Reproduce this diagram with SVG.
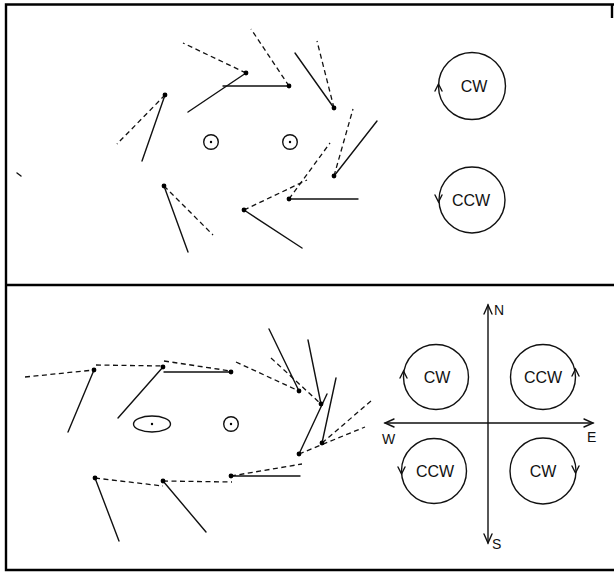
<svg xmlns="http://www.w3.org/2000/svg" width="614" height="572" viewBox="0 0 614 572">
<style>
.frame{stroke:#000;stroke-width:2.4;fill:none}
.s{stroke:#111;stroke-width:1.4;fill:none;stroke-linecap:round}
.d{stroke:#111;stroke-width:1.3;fill:none;stroke-dasharray:5 3.5}
.dot{fill:#000}
.c{stroke:#111;stroke-width:1.4;fill:none}
.t{font-family:"Liberation Sans",Arial,sans-serif;font-size:16px;fill:#111;text-anchor:middle}
.l{font-family:"Liberation Sans",Arial,sans-serif;font-size:14px;fill:#111}
</style>
<rect width="614" height="572" fill="#fff"/>
<g id="frame">
<path class="frame" d="M614 4.5H6V570H614M6 285H614"/>
<path class="frame" d="M612 5V18" stroke-width="1.2"/>
<path class="s" d="M17 173L21 176" stroke-width="1.6"/>
</g>
<g id="connectors">
<path class="s" d="M165 95L142 161"/><path class="d" d="M165 95L117 144"/>
<path class="d" d="M246 73L183 43"/><path class="s" d="M246 73L188 112"/>
<path class="s" d="M289 86H223"/><path class="d" d="M289 86L251 29"/>
<path class="s" d="M164 186L188 252"/><path class="d" d="M164 186L213 235"/>
<path class="s" d="M244 210L302 248"/><path class="d" d="M244 210L307 180"/>
<path class="s" d="M289 199H358"/><path class="d" d="M289 199L330 143"/>
<path class="s" d="M334 108L295 53"/><path class="d" d="M334 108L317 41"/>
<path class="s" d="M334 176L377 121"/><path class="d" d="M334 176L353 109"/>
<path class="s" d="M94 370L68 432"/><path class="d" d="M25 377L94 370"/><path class="d" d="M96 365L163 366"/>
<path class="s" d="M163 367L118 418"/><path class="s" d="M164 372H231"/><path class="d" d="M164 361L231 371"/>
<path class="d" d="M236 362L299 391"/>
<path class="s" d="M299 391L269 329"/><path class="d" d="M271 358L321 404"/>
<path class="s" d="M321 404L308 340"/>
<path class="s" d="M299 454L327 394"/><path class="s" d="M322 443L336 378"/>
<path class="d" d="M299 454L365 427"/><path class="d" d="M322 443L371 401"/>
<path class="s" d="M231 476H300"/><path class="d" d="M231 476L302 464"/>
<path class="s" d="M163 481L206 532"/><path class="d" d="M95 478L163 486"/><path class="d" d="M163 481L232 482"/>
<path class="s" d="M95 478L119 541"/>
</g>
<g id="dots">
<circle class="dot" cx="165" cy="95" r="2.4"/><circle class="dot" cx="246" cy="73" r="2.4"/>
<circle class="dot" cx="289" cy="86" r="2.4"/><circle class="dot" cx="164" cy="186" r="2.4"/>
<circle class="dot" cx="244" cy="210" r="2.4"/><circle class="dot" cx="289" cy="199" r="2.4"/>
<circle class="dot" cx="334" cy="108" r="2.4"/><circle class="dot" cx="334" cy="176" r="2.4"/>
<circle class="dot" cx="94" cy="370" r="2.4"/><circle class="dot" cx="163" cy="367" r="2.4"/>
<circle class="dot" cx="231" cy="372" r="2.4"/><circle class="dot" cx="299" cy="391" r="2.4"/>
<circle class="dot" cx="321" cy="404" r="2.4"/><circle class="dot" cx="299" cy="454" r="2.4"/>
<circle class="dot" cx="322" cy="443" r="2.4"/><circle class="dot" cx="231" cy="476" r="2.4"/>
<circle class="dot" cx="163" cy="481" r="2.4"/><circle class="dot" cx="95" cy="478" r="2.4"/>
</g>
<g id="centers">
<circle class="c" cx="211" cy="142" r="7.3"/><circle class="dot" cx="211" cy="142" r="1.2"/>
<circle class="c" cx="290" cy="142" r="7.3"/><circle class="dot" cx="290" cy="142" r="1.2"/>
<ellipse class="c" cx="152" cy="424" rx="18.5" ry="8"/><circle class="dot" cx="152" cy="424" r="1.2"/>
<circle class="c" cx="231" cy="424" r="7.3"/><circle class="dot" cx="231" cy="424" r="1.2"/>
</g>
<g id="top-cw">
<circle class="c" cx="472" cy="86" r="33.5"/>
<path class="s" d="M435 91L438.5 84L442 91"/>
<text class="t" x="474" y="92">CW</text>
</g>
<g id="top-ccw">
<circle class="c" cx="472" cy="200" r="33"/>
<path class="s" d="M435 195L438.5 202L442 195"/>
<text class="t" x="471" y="206">CCW</text>
</g>
<g id="compass">
<path class="s" d="M488 305V543M385 423H593"/>
<path class="s" d="M484 314L488 305L492 314M484 534L488 543L492 534M394 419L385 423L394 427M584 419L593 423L584 427"/>
<text class="l" x="494" y="315">N</text>
<text class="l" x="492" y="549">S</text>
<text class="l" x="382" y="444">W</text>
<text class="l" x="587" y="442">E</text>
</g>
<g id="nw-cw">
<circle class="c" cx="436" cy="377" r="32.5"/>
<path class="s" d="M400 378L403.5 371L407 378"/>
<text class="t" x="437" y="383">CW</text>
</g>
<g id="ne-ccw">
<circle class="c" cx="543" cy="377" r="32.5"/>
<path class="s" d="M572 376L575.5 369L579 376"/>
<text class="t" x="543" y="383">CCW</text>
</g>
<g id="sw-ccw">
<circle class="c" cx="434" cy="471" r="32.5"/>
<path class="s" d="M398 467L401.5 474L405 467"/>
<text class="t" x="435" y="477">CCW</text>
</g>
<g id="se-cw">
<circle class="c" cx="543" cy="471" r="33"/>
<path class="s" d="M572 466L575.5 473L579 466"/>
<text class="t" x="543" y="477">CW</text>
</g>
</svg>
